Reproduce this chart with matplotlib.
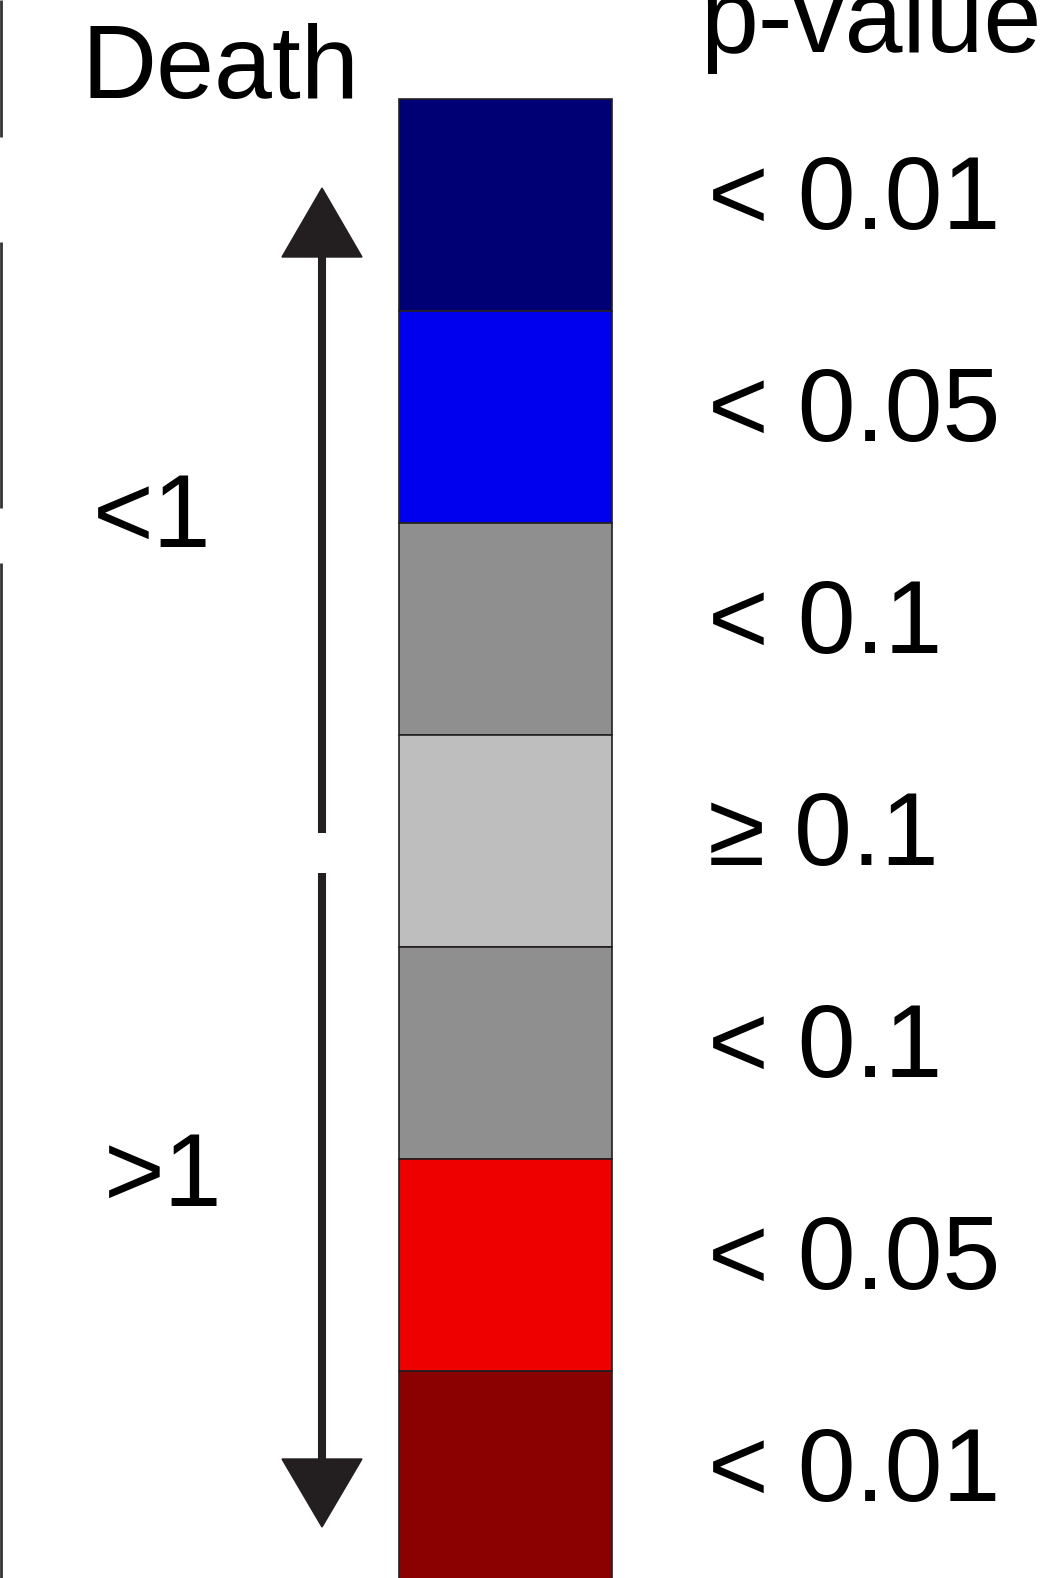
import numpy as np
import matplotlib
matplotlib.use('Agg')
import matplotlib.pyplot as plt
from matplotlib.patches import Polygon

plt.rcParams['font.family'] = ['Liberation Sans', 'DejaVu Sans']

# legend contents
p_labels = ['< 0.01', '< 0.05', '< 0.1', '\u2265 0.1', '< 0.1', '< 0.05', '< 0.01']
block_colors = ['#000075', '#0000ee', '#8f8f8f', '#bebebe', '#8f8f8f', '#ee0000', '#8b0000']
ratio_labels = ['<1', '>1']
title_left = 'Death'
title_right = 'p-value'

W, H = 1049, 1578
fig = plt.figure(figsize=(W / 100, H / 100), dpi=100)
ax = fig.add_axes([0, 0, 1, 1])
ax.set_xlim(0, W)
ax.set_ylim(H, 0)
ax.axis('off')

# colour blocks
top0, bh = 99, 212
bx0, bx1 = 399, 612
tops = top0 + bh * np.arange(len(block_colors))
ax.bar((bx0 + bx1) / 2, bh, width=bx1 - bx0, bottom=tops, color=block_colors,
       edgecolor='#231f20', linewidth=1.2, align='center')

fs = 75
for t, lab in zip(tops, p_labels):
    ax.text(708, t + 130, lab, fontsize=fs, ha='left', va='baseline')

ax.text(82, 98, title_left, fontsize=fs, ha='left', va='baseline')
ax.text(700, 52, title_right, fontsize=fs, ha='left', va='baseline')

ax.text(152, 547, ratio_labels[0], fontsize=fs, ha='center', va='baseline')
ax.text(163, 1206, ratio_labels[1], fontsize=fs, ha='center', va='baseline')

# arrows
ac = '#231f20'
cx = 322
ax.plot([cx, cx], [250, 833], color=ac, lw=5.8, solid_capstyle='butt')
ax.plot([cx, cx], [873, 1465], color=ac, lw=5.8, solid_capstyle='butt')
ax.add_patch(Polygon([[cx - 40, 257], [cx + 40, 257], [cx, 188]], closed=True, color=ac))
ax.add_patch(Polygon([[cx - 40, 1459], [cx + 40, 1459], [cx, 1527]], closed=True, color=ac))

# edge lines from neighbouring panel
for y0, y1 in [(0, 137), (242, 508), (563, H)]:
    ax.plot([1, 1], [y0, y1], color='#333333', lw=2.0, solid_capstyle='butt')

fig.savefig('out.png', dpi=100)
